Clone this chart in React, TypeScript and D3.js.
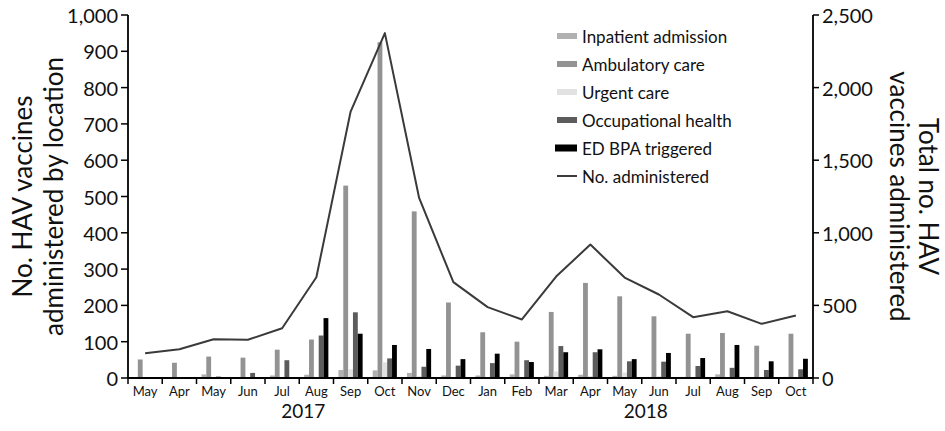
import React from 'react';
import * as d3 from 'd3';

const months = ["May", "Apr", "May", "Jun", "Jul", "Aug", "Sep", "Oct", "Nov", "Dec",
  "Jan", "Feb", "Mar", "Apr", "May", "Jun", "Jul", "Aug", "Sep", "Oct"];
const years = [
  { label: "2017", first: 0, last: 9 },
  { label: "2018", first: 10, last: 19 },
];

const inpatient = [0, 0, 10, 0, 7, 9, 22, 21, 14, 7, 7, 10, 6, 9, 6, 3, 3, 10, 2, 3];
const ambulatory = [51, 42, 59, 56, 78, 106, 530, 925, 459, 208, 126, 100, 182, 262, 225, 170, 122, 124, 89, 122];
const urgent = [0, 0, 0, 0, 0, 0, 24, 43, 5, 3, 0, 0, 18, 5, 15, 5, 0, 0, 0, 3];
const occupational = [2, 2, 4, 14, 49, 117, 181, 54, 31, 34, 41, 49, 88, 71, 46, 45, 33, 28, 22, 24];
const edBpa = [0, 0, 0, 0, 0, 165, 122, 91, 80, 52, 67, 44, 71, 79, 52, 69, 55, 91, 46, 53];
const totalAdministered = [171, 198, 267, 263, 343, 694, 1835, 2375, 1240, 660, 488, 403, 699, 919, 692, 575, 419, 460, 373, 430];

const leftTicks = [0, 100, 200, 300, 400, 500, 600, 700, 800, 900, 1000];
const rightTicks = [0, 500, 1000, 1500, 2000, 2500];

const series = [
  { name: "Inpatient admission", values: inpatient, color: "#b1b1b1" },
  { name: "Ambulatory care", values: ambulatory, color: "#939393" },
  { name: "Urgent care", values: urgent, color: "#e2e2e2" },
  { name: "Occupational health", values: occupational, color: "#5c5c5c" },
  { name: "ED BPA triggered", values: edBpa, color: "#000000" },
];

const FONT = "Lato, 'Open Sans', sans-serif";

export default function App() {
  const W = 945, H = 431;
  const left = 128, right = 813, top = 15, bottom = 378;

  const x0 = d3.scaleBand<number>().domain(d3.range(months.length)).range([left, right]).padding(0);
  const bw = x0.bandwidth();
  const x1 = d3.scaleBand<string>().domain(series.map(s => s.name)).range([bw * 0.145, bw * 0.85]).padding(0);
  const yL = d3.scaleLinear().domain([0, 1000]).range([bottom, top]);
  const yR = d3.scaleLinear().domain([0, 2500]).range([bottom, top]);

  const line = d3.line<number>()
    .x((_, i) => (x0(i) || 0) + bw / 2)
    .y(d => yR(d));

  const fmt = d3.format(",");

  return (
    <div style={{ position: 'absolute', left: 0, top: 0 }}>
      <svg width={W} height={H} style={{ display: 'block', background: '#fff' }} fontFamily={FONT}>
        {/* bars */}
        {series.map(s => (
          <g key={s.name} fill={s.color}>
            {s.values.map((v, i) => v > 0 && (
              <rect key={i} x={(x0(i) || 0) + (x1(s.name) || 0)} y={yL(v)}
                width={x1.bandwidth()} height={bottom - yL(v)} />
            ))}
          </g>
        ))}

        {/* total line */}
        <path d={line(totalAdministered) || ''} fill="none" stroke="#3a3a3a" strokeWidth={2} strokeLinejoin="round" />

        {/* left axis */}
        <line x1={left} x2={left} y1={top} y2={bottom} stroke="#000" strokeWidth={1.8} />
        {leftTicks.map(t => (
          <g key={t}>
            <line x1={left - 7} x2={left} y1={yL(t)} y2={yL(t)} stroke="#000" strokeWidth={1.5} />
            <text x={left - 10} y={yL(t)} textAnchor="end" dominantBaseline="central" fontSize={20} fill="#111">{fmt(t)}</text>
          </g>
        ))}

        {/* right axis */}
        <line x1={right} x2={right} y1={top} y2={bottom} stroke="#000" strokeWidth={1.8} />
        {rightTicks.map(t => (
          <g key={t}>
            <line x1={right} x2={right + 6} y1={yR(t)} y2={yR(t)} stroke="#000" strokeWidth={1.5} />
            <text x={right + 9} y={yR(t)} textAnchor="start" dominantBaseline="central" fontSize={20} fill="#111">{fmt(t)}</text>
          </g>
        ))}

        {/* bottom axis */}
        <line x1={left} x2={right} y1={bottom} y2={bottom} stroke="#000" strokeWidth={1.8} />
        {d3.range(months.length + 1).map(i => {
          const xx = i < months.length ? (x0(i) || 0) : right;
          return <line key={i} x1={xx} x2={xx} y1={bottom} y2={bottom + 6} stroke="#000" strokeWidth={1.5} />;
        })}
        {months.map((m, i) => (
          <text key={i} x={(x0(i) || 0) + bw / 2} y={396} textAnchor="middle" fontSize={13} fill="#111">{m}</text>
        ))}
        {years.map(yr => (
          <text key={yr.label} x={((x0(yr.first) || 0) + (x0(yr.last) || 0) + bw) / 2 + 4} y={418}
            textAnchor="middle" fontSize={19} fill="#111">{yr.label}</text>
        ))}

        {/* axis titles */}
        <text transform={`translate(22,${(top + bottom) / 2}) rotate(-90)`} textAnchor="middle" dominantBaseline="central" fontSize={26} fill="#111">
          <tspan x={0} dy={0}>No. HAV vaccines</tspan>
          <tspan x={0} dy={31}>administered by location</tspan>
        </text>
        <text transform={`translate(929,${(top + bottom) / 2}) rotate(90)`} textAnchor="middle" dominantBaseline="central" fontSize={26} fill="#111">
          <tspan x={0} dy={0}>Total no. HAV</tspan>
          <tspan x={0} dy={29}>vaccines administered</tspan>
        </text>

        {/* legend */}
        {series.map((s, i) => {
          const cy = 36 + i * 28;
          const big = s.color === "#000000";
          return (
            <g key={s.name}>
              <rect x={big ? 555 : 557} y={cy - (big ? 3.5 : 3)} width={big ? 22 : 20} height={big ? 7 : 6} fill={s.color} />
              <text x={582} y={cy} dominantBaseline="central" fontSize={17} fill="#111">{s.name}</text>
            </g>
          );
        })}
        <line x1={557} x2={577} y1={36 + 5 * 28} y2={36 + 5 * 28} stroke="#3a3a3a" strokeWidth={2} />
        <text x={582} y={36 + 5 * 28} dominantBaseline="central" fontSize={17} fill="#111">No. administered</text>
      </svg>
    </div>
  );
}
